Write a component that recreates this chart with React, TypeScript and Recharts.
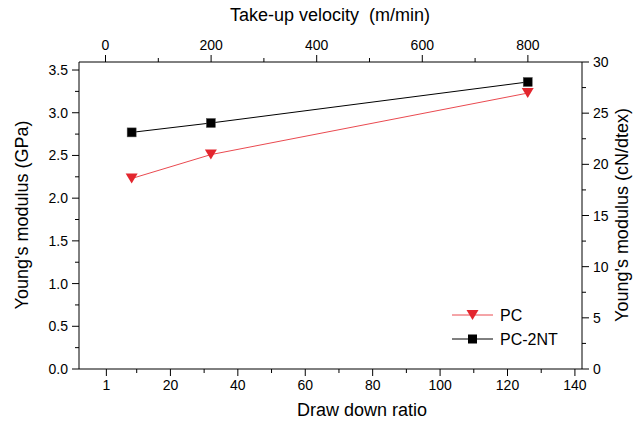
import React from 'react';
import { LineChart, Line, XAxis, YAxis, Label } from 'recharts';

const drawRatio = [8.5, 32, 126];
const velocity = [50, 200, 800];
const pcModulus = [2.23, 2.51, 3.23];
const pc2ntModulus = [2.77, 2.88, 3.36];

const bottomTicks = [1, 10, 20, 30, 40, 50, 60, 70, 80, 90, 100, 110, 120, 130, 140];
const bottomMajor = [1, 20, 40, 60, 80, 100, 120, 140];
const topTicks = [0, 100, 200, 300, 400, 500, 600, 700, 800];
const topMajor = [0, 200, 400, 600, 800];
const leftTicks = [0, 0.25, 0.5, 0.75, 1, 1.25, 1.5, 1.75, 2, 2.25, 2.5, 2.75, 3, 3.25, 3.5];
const leftMajor = [0, 0.5, 1, 1.5, 2, 2.5, 3, 3.5];
const rightTicks = [0, 2.5, 5, 7.5, 10, 12.5, 15, 17.5, 20, 22.5, 25, 27.5, 30];
const rightMajor = [0, 5, 10, 15, 20, 25, 30];

const data = drawRatio.map((x, i) => ({ x, v: velocity[i], pc: pcModulus[i], pc2nt: pc2ntModulus[i] }));

const FONT = '"Liberation Sans", Arial, sans-serif';
const RED = '#e3262e';
const RED_LINE = '#ea4a50';
const MAJOR = 7;
const MINOR = 4;

const isMajor = (list: number[], v: number) => list.some((m) => Math.abs(m - v) < 1e-9);

const makeTick = (orient: 'top' | 'bottom' | 'left' | 'right', major: number[], fmt: (v: number) => string) =>
  (props: any) => {
    const { x, y, payload } = props;
    const v = payload.value;
    const maj = isMajor(major, v);
    const len = maj ? MAJOR : MINOR;
    let line;
    let text = null;
    if (orient === 'bottom') {
      line = <line x1={x} x2={x} y1={y} y2={y + len} stroke="#000" strokeWidth={1} />;
      if (maj) text = <text x={x} y={y + 21} textAnchor="middle" fontSize={14} fontFamily={FONT} fill="#000">{fmt(v)}</text>;
    } else if (orient === 'top') {
      line = <line x1={x} x2={x} y1={y} y2={y - len} stroke="#000" strokeWidth={1} />;
      if (maj) text = <text x={x} y={y - 12} textAnchor="middle" fontSize={14} fontFamily={FONT} fill="#000">{fmt(v)}</text>;
    } else if (orient === 'left') {
      line = <line x1={x} x2={x - len} y1={y} y2={y} stroke="#000" strokeWidth={1} />;
      if (maj) text = <text x={x - 11} y={y + 5} textAnchor="end" fontSize={14} fontFamily={FONT} fill="#000">{fmt(v)}</text>;
    } else {
      line = <line x1={x} x2={x + len} y1={y} y2={y} stroke="#000" strokeWidth={1} />;
      if (maj) text = <text x={x + 11} y={y + 5} textAnchor="start" fontSize={14} fontFamily={FONT} fill="#000">{fmt(v)}</text>;
    }
    return (
      <g>
        {line}
        {text}
      </g>
    );
  };

const TriangleDot = (props: any) => {
  const { cx, cy } = props;
  if (cx == null || cy == null) return null;
  return <path d={`M${cx - 6},${cy - 5} L${cx + 6},${cy - 5} L${cx},${cy + 5} Z`} fill={RED} />;
};

const SquareDot = (props: any) => {
  const { cx, cy } = props;
  if (cx == null || cy == null) return null;
  return <rect x={cx - 4.5} y={cy - 4.5} width={9} height={9} fill="#000" stroke="#555" strokeWidth={0.5} />;
};

const LegendBox = () => (
  <svg width={120} height={50} style={{ position: 'absolute', left: 450, top: 304 }}>
    <line x1={2} x2={43} y1={11} y2={11} stroke={RED_LINE} strokeWidth={1} />
    <path d="M16.5,6 L28.5,6 L22.5,16 Z" fill={RED} />
    <text x={50} y={17} fontSize={16} fontFamily={FONT} fill="#000">PC</text>
    <line x1={2} x2={43} y1={35} y2={35} stroke="#000" strokeWidth={1} />
    <rect x={18} y={30.5} width={9} height={9} fill="#000" />
    <text x={50} y={41} fontSize={16} fontFamily={FONT} fill="#000">PC-2NT</text>
  </svg>
);

export default function App() {
  return (
    <div style={{ position: 'absolute', left: 0, top: 0, width: 644, height: 428, background: '#fff' }}>
      <LineChart
        width={644}
        height={428}
        data={data}
        margin={{ top: 32, right: 22, bottom: 29, left: 29 }}
      >
        <XAxis
          xAxisId="bottom"
          dataKey="x"
          type="number"
          orientation="bottom"
          domain={[-7.12, 142.1]}
          ticks={bottomTicks}
          interval={0}
          allowDataOverflow
          height={30}
          tickSize={0}
          tickMargin={0}
          tickLine={false}
          axisLine={{ stroke: '#000', strokeWidth: 1 }}
          tick={makeTick('bottom', bottomMajor, (v) => String(v))}
        >
          <Label
            content={() => (
              <text x={362} y={416} textAnchor="middle" fontSize={18} fontFamily={FONT} fill="#000">
                Draw down ratio
              </text>
            )}
          />
        </XAxis>
        <XAxis
          xAxisId="top"
          dataKey="v"
          type="number"
          orientation="top"
          domain={[-50.2, 902.5]}
          ticks={topTicks}
          interval={0}
          allowDataOverflow
          height={30}
          tickSize={0}
          tickMargin={0}
          tickLine={false}
          axisLine={{ stroke: '#000', strokeWidth: 1 }}
          tick={makeTick('top', topMajor, (v) => String(v))}
        >
          <Label
            content={() => (
              <text x={330} y={21} textAnchor="middle" fontSize={18} fontFamily={FONT} fill="#000" style={{ whiteSpace: 'pre' }}>
                {'Take-up velocity\u00a0 (m/min)'}
              </text>
            )}
          />
        </XAxis>
        <YAxis
          yAxisId="left"
          type="number"
          orientation="left"
          domain={[0, 3.594]}
          ticks={leftTicks}
          interval={0}
          allowDataOverflow
          width={50}
          tickSize={0}
          tickMargin={0}
          tickLine={false}
          axisLine={{ stroke: '#000', strokeWidth: 1 }}
          tick={makeTick('left', leftMajor, (v) => v.toFixed(1))}
        >
          <Label
            content={() => (
              <text x={28} y={215} transform="rotate(-90 28 215)" textAnchor="middle" fontSize={18} fontFamily={FONT} fill="#000">
                Young's modulus (GPa)
              </text>
            )}
          />
        </YAxis>
        <YAxis
          yAxisId="right"
          type="number"
          orientation="right"
          domain={[0, 30]}
          ticks={rightTicks}
          interval={0}
          allowDataOverflow
          width={40}
          tickSize={0}
          tickMargin={0}
          tickLine={false}
          axisLine={{ stroke: '#000', strokeWidth: 1 }}
          tick={makeTick('right', rightMajor, (v) => String(v))}
        >
          <Label
            content={() => (
              <text x={628} y={215} transform="rotate(-90 628 215)" textAnchor="middle" fontSize={18} fontFamily={FONT} fill="#000">
                Young's modulus (cN/dtex)
              </text>
            )}
          />
        </YAxis>
        <Line
          xAxisId="top"
          yAxisId="right"
          dataKey={() => null}
          stroke="none"
          dot={false}
          activeDot={false}
          legendType="none"
          isAnimationActive={false}
        />
        <Line
          xAxisId="bottom"
          yAxisId="left"
          dataKey="pc"
          name="PC"
          stroke={RED_LINE}
          strokeWidth={1}
          dot={TriangleDot}
          activeDot={false}
          isAnimationActive={false}
        />
        <Line
          xAxisId="bottom"
          yAxisId="left"
          dataKey="pc2nt"
          name="PC-2NT"
          stroke="#000"
          strokeWidth={1}
          dot={SquareDot}
          activeDot={false}
          isAnimationActive={false}
        />
      </LineChart>
      <LegendBox />
    </div>
  );
}
